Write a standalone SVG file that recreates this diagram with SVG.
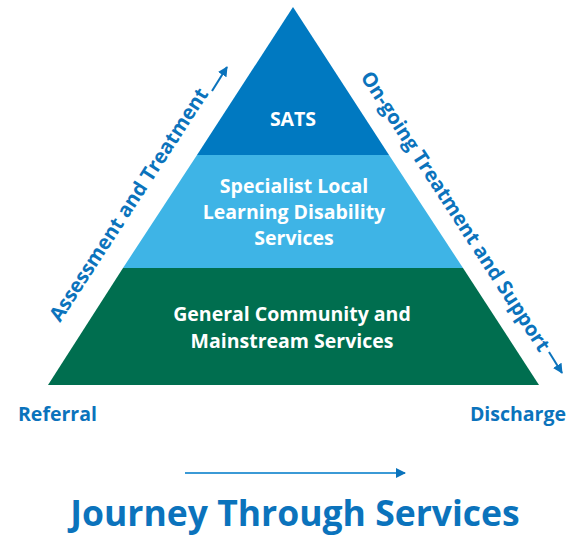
<svg xmlns="http://www.w3.org/2000/svg" width="566" height="535" viewBox="0 0 566 535">
<style>
.t{font-family:"Open Sans","Noto Sans","Liberation Sans",sans-serif;font-weight:700}
.w{fill:#ffffff;font-size:19.5px;text-anchor:middle}
.b{fill:#0B73BC}
.ln{stroke:#0B73BC;stroke-width:2;fill:none}
</style>
<defs>
<marker id="ah" viewBox="0 0 10 10" refX="9" refY="5" markerWidth="5" markerHeight="5" orient="auto" markerUnits="strokeWidth">
<path d="M0,0 L10,5 L0,10 z" fill="#0B73BC"/>
</marker>
</defs>
<rect width="566" height="535" fill="#ffffff"/>
<g id="sats">
<polygon points="293,7 389,155 197,155" fill="#0079C1"/>
<text class="t w" x="293" y="126">SATS</text>
</g>
<g id="specialist">
<polygon points="197,155 389,155 463,268 123,268" fill="#3EB4E6"/>
<text class="t w" x="294" y="193">Specialist Local</text>
<text class="t w" x="294" y="219">Learning Disability</text>
<text class="t w" x="294" y="245">Services</text>
</g>
<g id="general">
<polygon points="123,268 463,268 539,385 48,385" fill="#006E4F"/>
<text class="t w" x="292" y="321">General Community and</text>
<text class="t w" x="292" y="348">Mainstream Services</text>
</g>
<g id="left-label">
<text class="t b" font-size="20" transform="translate(60,323) rotate(-57)">Assessment and Treatment</text>
</g>
<g id="right-label">
<text class="t b" font-size="20" transform="translate(360,77) rotate(57)">On-going Treatment and Support</text>
</g>
<g id="referral"><text class="t b" font-size="19.5" x="18" y="421">Referral</text></g>
<g id="discharge"><text class="t b" font-size="19.5" x="566" y="421" text-anchor="end">Discharge</text></g>
<g id="title"><text class="t b" font-size="35.5" x="295" y="526" text-anchor="middle">Journey Through Services</text></g>
<g id="connectors">
<line class="ln" x1="212" y1="91" x2="227" y2="67" marker-end="url(#ah)"/>
<line class="ln" x1="549" y1="352" x2="562" y2="373" marker-end="url(#ah)"/>
<line x1="185" y1="473" x2="405" y2="473" stroke="#3B9AD6" stroke-width="2" marker-end="url(#ah)"/>
</g>
</svg>
